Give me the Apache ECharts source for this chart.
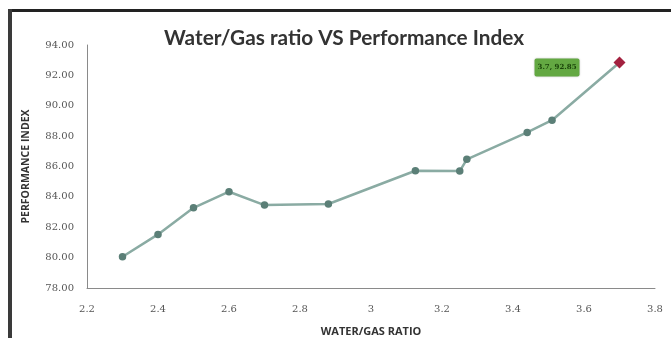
<!DOCTYPE html>
<html><head><meta charset="utf-8">
<script src="https://cdn.jsdelivr.net/npm/echarts@6/dist/echarts.min.js"></script>
<style>html,body{margin:0;padding:0;background:#fff;overflow:hidden}#c{width:671px;height:338px}</style>
</head><body><div id="c"></div>
<script>
var title = 'Water/Gas ratio VS Performance Index';
var xAxisName = 'WATER/GAS RATIO';
var yAxisName = 'PERFORMANCE INDEX';
var ratio = [2.30, 2.40, 2.50, 2.60, 2.70, 2.88, 3.125, 3.25, 3.27, 3.44, 3.51, 3.70];
var perfIndex = [80.06, 81.53, 83.28, 84.34, 83.46, 83.53, 85.72, 85.70, 86.47, 88.24, 89.05, 92.85];
var highlightLabel = '3.7, 92.85';

var data = ratio.map(function (x, i) { return [x, perfIndex[i]]; });
var last = data.length - 1;
var seriesData = data.map(function (d, i) {
  if (i !== last) return d;
  return {
    value: d,
    symbol: 'diamond',
    symbolSize: 12,
    itemStyle: { color: '#a3213f' },
    label: {
      show: true, position: 'left', distance: 34, offset: [0, 5],
      formatter: highlightLabel,
      backgroundColor: '#63a842', color: '#1a440a',
      fontSize: 7, fontFamily: 'DejaVu Serif', fontWeight: 'bold',
      padding: [6, 3, 5, 3], borderRadius: 2,
      shadowColor: 'rgba(0,0,0,0.25)', shadowBlur: 2
    }
  };
});

var chart = echarts.init(document.getElementById('c'), null, { renderer: 'canvas' });
chart.setOption({
  backgroundColor: '#fff',
  animation: false,
  title: {
    text: title, left: 339, top: 23, textAlign: 'center',
    textStyle: { fontFamily: 'Lato', fontWeight: 'bold', fontSize: 20.8, color: '#333' }
  },
  graphic: [
    { type: 'rect', shape: { x: 8, y: 9, width: 663, height: 3 }, style: { fill: '#222' } },
    { type: 'rect', shape: { x: 8, y: 9, width: 4, height: 329 }, style: { fill: '#3a3a3a' } }
  ],
  grid: { left: 87, right: 16, top: 45, bottom: 50, outerBoundsMode: 'none', containLabel: false },
  xAxis: {
    type: 'value', min: 2.2, max: 3.8, interval: 0.2,
    name: xAxisName, nameLocation: 'middle', nameGap: 38,
    nameTextStyle: { fontFamily: 'Open Sans', fontWeight: 'bold', fontSize: 11, color: '#333' },
    axisLine: { show: true, lineStyle: { color: '#8a8a8a', width: 1 } },
    axisTick: { show: false },
    splitLine: { show: false },
    axisLabel: {
      margin: 16, fontFamily: 'DejaVu Serif', fontSize: 10, color: '#555',
      formatter: function (v) { return String(+v.toFixed(1)); }
    }
  },
  yAxis: {
    type: 'value', min: 78, max: 94, interval: 2,
    name: yAxisName, nameLocation: 'middle', nameGap: 55, nameRotate: 90,
    nameTextStyle: { fontFamily: 'Open Sans', fontWeight: 'bold', fontSize: 10.5, color: '#333' },
    axisLine: { show: true, lineStyle: { color: '#8a8a8a', width: 1 } },
    axisTick: { show: false },
    splitLine: { show: false },
    axisLabel: {
      margin: 13, fontFamily: 'DejaVu Serif', fontSize: 10, color: '#555',
      formatter: function (v) { return v.toFixed(2); }
    }
  },
  series: [{
    type: 'line', data: seriesData,
    symbol: 'circle', symbolSize: 7.5,
    lineStyle: { color: '#8aaba3', width: 2.5 },
    itemStyle: { color: '#5b7f77' }
  }]
});
</script></body></html>
